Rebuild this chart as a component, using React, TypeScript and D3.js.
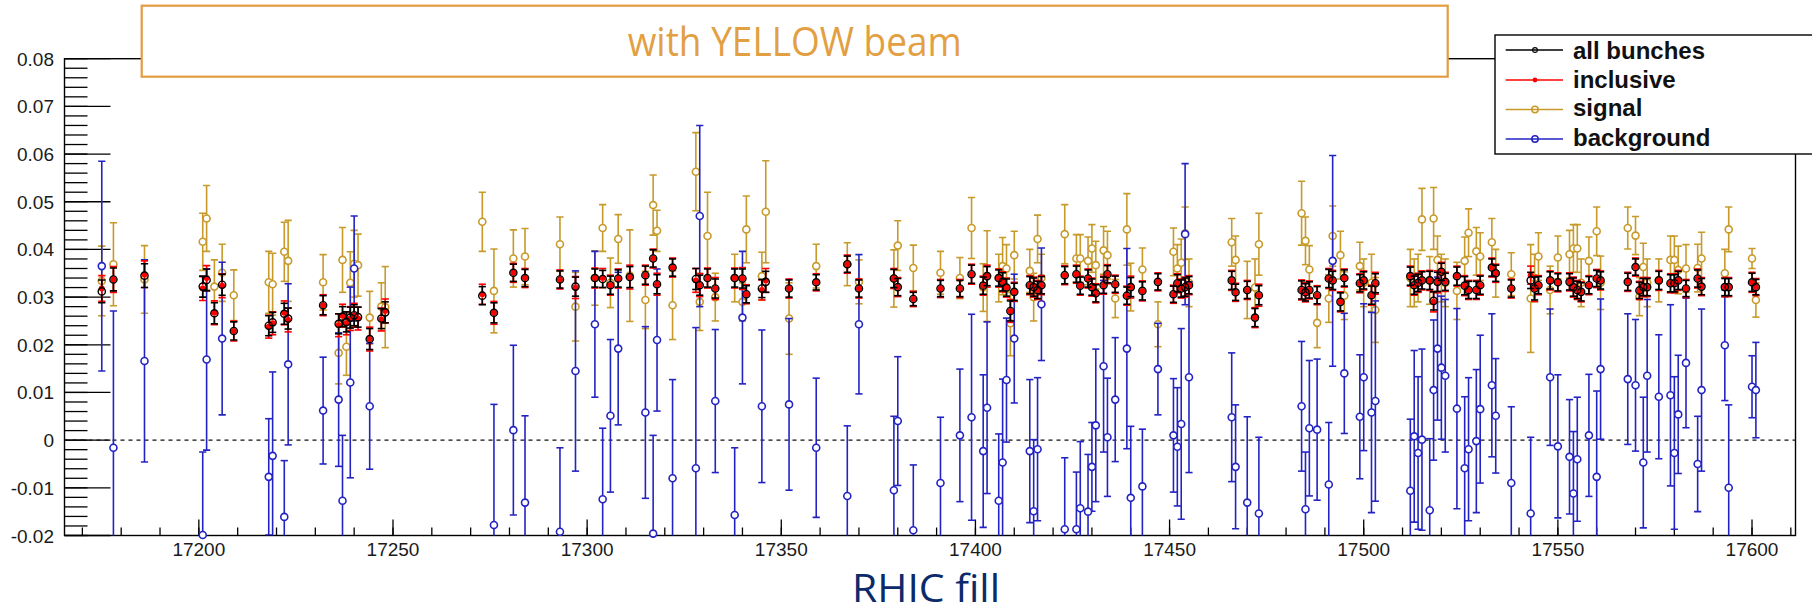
import React from "react";
import * as d3 from "d3";

// ---------------- data ----------------
const fills = [
  17175, 17178, 17186, 17201, 17202, 17204, 17206, 17209, 17218, 17219, 17222, 17223, 17232, 17236, 17237, 17238, 17239, 17240, 17241, 17244, 17247, 17248,
  17273, 17276, 17281, 17284, 17293, 17297, 17302, 17304, 17306, 17308, 17311, 17315, 17317, 17318, 17322, 17328, 17329, 17331, 17333, 17338, 17340, 17341, 17345, 17346, 17352,
  17359, 17367, 17370, 17379, 17380, 17384, 17391, 17396, 17399, 17402, 17403, 17406, 17407, 17408, 17409, 17410, 17414, 17415, 17416, 17417, 17423, 17426, 17427, 17429, 17430, 17431, 17433, 17434, 17436, 17439, 17440, 17443, 17447,
  17451, 17452, 17453, 17454, 17455, 17466, 17467, 17470, 17472, 17473, 17484, 17485, 17486, 17488, 17491, 17492, 17494, 17495, 17499, 17500, 17502, 17503,
  17512, 17513, 17514, 17515, 17517, 17518, 17519, 17520, 17521, 17524, 17526, 17527, 17529, 17530, 17533, 17534, 17538, 17543, 17544, 17545, 17548, 17550, 17553, 17554, 17555, 17556, 17558, 17560, 17561,
  17568, 17570, 17571, 17572, 17573, 17576, 17579, 17580, 17581, 17583, 17586, 17587, 17593, 17594, 17600, 17601,
];

const allV = [
  0.0312, 0.0337, 0.0345, 0.0322, 0.0336, 0.0266, 0.0326, 0.0229, 0.0240, 0.0247, 0.0265, 0.0255, 0.0283, 0.0244, 0.0259, 0.0248, 0.0257, 0.0262, 0.0258, 0.0212, 0.0255, 0.0268,
  0.0303, 0.0267, 0.0351, 0.0340, 0.0337, 0.0322, 0.0340, 0.0338, 0.0325, 0.0339, 0.0342, 0.0346, 0.0381, 0.0327, 0.0362, 0.0338, 0.0325, 0.0340, 0.0318, 0.0340, 0.0339, 0.0306, 0.0318, 0.0332, 0.0318,
  0.0331, 0.0369, 0.0318, 0.0339, 0.0321, 0.0296, 0.0318, 0.0318, 0.0348, 0.0324, 0.0344, 0.0340, 0.0332, 0.0320, 0.0271, 0.0311, 0.0325, 0.0321, 0.0315, 0.0325, 0.0346, 0.0348, 0.0324, 0.0339, 0.0321, 0.0308, 0.0325, 0.0348, 0.0327, 0.0303, 0.0321, 0.0313, 0.0332,
  0.0306, 0.0329, 0.0318, 0.0321, 0.0325, 0.0335, 0.0310, 0.0315, 0.0257, 0.0304, 0.0315, 0.0310, 0.0315, 0.0304, 0.0339, 0.0335, 0.0290, 0.0340, 0.0329, 0.0335, 0.0304, 0.0329,
  0.0344, 0.0325, 0.0330, 0.0335, 0.0335, 0.0292, 0.0332, 0.0353, 0.0332, 0.0344, 0.0324, 0.0315, 0.0315, 0.0325, 0.0362, 0.0350, 0.0318, 0.0335, 0.0318, 0.0325, 0.0335, 0.0331, 0.0332, 0.0321, 0.0315, 0.0311, 0.0325, 0.0339, 0.0335,
  0.0332, 0.0363, 0.0314, 0.0321, 0.0321, 0.0335, 0.0329, 0.0329, 0.0335, 0.0318, 0.0339, 0.0322, 0.0321, 0.0321, 0.0331, 0.0321,
];
const allE = [
  0.0024, 0.0024, 0.0025, 0.0022, 0.0023, 0.0022, 0.0022, 0.0019, 0.0021, 0.0021, 0.0022, 0.0022, 0.0020, 0.0021, 0.0021, 0.0021, 0.0022, 0.0022, 0.0021, 0.0022, 0.0021, 0.0022,
  0.0019, 0.0021, 0.0018, 0.0018, 0.0018, 0.0020, 0.0019, 0.0018, 0.0019, 0.0018, 0.0022, 0.0019, 0.0018, 0.0020, 0.0018, 0.0022, 0.0021, 0.0019, 0.0020, 0.0019, 0.0020, 0.0018, 0.0019, 0.0022, 0.0018,
  0.0016, 0.0017, 0.0018, 0.0019, 0.0018, 0.0014, 0.0017, 0.0017, 0.0019, 0.0018, 0.0020, 0.0017, 0.0019, 0.0018, 0.0021, 0.0018, 0.0018, 0.0019, 0.0018, 0.0018, 0.0018, 0.0017, 0.0018, 0.0018, 0.0017, 0.0018, 0.0017, 0.0018, 0.0017, 0.0018, 0.0020, 0.0019, 0.0017, 0.0017,
  0.0018, 0.0018, 0.0019, 0.0018, 0.0019, 0.0017, 0.0018, 0.0019, 0.0020, 0.0019, 0.0018, 0.0017, 0.0018, 0.0019, 0.0019, 0.0019, 0.0017, 0.0018, 0.0018, 0.0019, 0.0020, 0.0019,
  0.0019, 0.0018, 0.0018, 0.0019, 0.0019, 0.0020, 0.0018, 0.0018, 0.0019, 0.0019, 0.0018, 0.0018, 0.0019, 0.0018, 0.0017, 0.0018, 0.0017, 0.0024, 0.0018, 0.0018, 0.0018, 0.0017, 0.0019, 0.0018, 0.0019, 0.0018, 0.0017, 0.0018, 0.0018,
  0.0017, 0.0017, 0.0018, 0.0018, 0.0019, 0.0018, 0.0018, 0.0019, 0.0017, 0.0018, 0.0017, 0.0018, 0.0018, 0.0019, 0.0016, 0.0017,
];

const inclV = [
  0.0318, 0.0337, 0.0348, 0.0318, 0.0340, 0.0267, 0.0324, 0.0229, 0.0238, 0.0245, 0.0267, 0.0252, 0.0283, 0.0241, 0.0261, 0.0245, 0.0255, 0.0262, 0.0255, 0.0212, 0.0253, 0.0271,
  0.0306, 0.0267, 0.0351, 0.0340, 0.0337, 0.0320, 0.0340, 0.0340, 0.0325, 0.0339, 0.0342, 0.0346, 0.0381, 0.0327, 0.0362, 0.0335, 0.0325, 0.0340, 0.0318, 0.0340, 0.0339, 0.0306, 0.0315, 0.0335, 0.0318,
  0.0331, 0.0369, 0.0318, 0.0339, 0.0321, 0.0296, 0.0318, 0.0318, 0.0348, 0.0324, 0.0344, 0.0340, 0.0332, 0.0320, 0.0271, 0.0311, 0.0325, 0.0321, 0.0315, 0.0325, 0.0346, 0.0348, 0.0324, 0.0339, 0.0321, 0.0308, 0.0325, 0.0348, 0.0327, 0.0303, 0.0321, 0.0313, 0.0332,
  0.0306, 0.0329, 0.0318, 0.0321, 0.0325, 0.0335, 0.0310, 0.0315, 0.0257, 0.0304, 0.0315, 0.0310, 0.0315, 0.0304, 0.0339, 0.0335, 0.0290, 0.0340, 0.0329, 0.0335, 0.0304, 0.0329,
  0.0344, 0.0325, 0.0330, 0.0335, 0.0335, 0.0290, 0.0332, 0.0353, 0.0332, 0.0344, 0.0324, 0.0315, 0.0315, 0.0325, 0.0362, 0.0350, 0.0318, 0.0346, 0.0318, 0.0325, 0.0335, 0.0331, 0.0332, 0.0321, 0.0315, 0.0311, 0.0325, 0.0339, 0.0335,
  0.0332, 0.0363, 0.0314, 0.0321, 0.0321, 0.0335, 0.0329, 0.0329, 0.0335, 0.0318, 0.0339, 0.0322, 0.0321, 0.0321, 0.0331, 0.0321,
];
const inclE = [
  0.0027, 0.0027, 0.0028, 0.0025, 0.0026, 0.0025, 0.0025, 0.0021, 0.0024, 0.0024, 0.0025, 0.0025, 0.0022, 0.0024, 0.0024, 0.0024, 0.0025, 0.0025, 0.0024, 0.0025, 0.0024, 0.0025,
  0.0021, 0.0024, 0.0020, 0.0020, 0.0020, 0.0023, 0.0021, 0.0020, 0.0021, 0.0020, 0.0025, 0.0021, 0.0020, 0.0023, 0.0020, 0.0025, 0.0024, 0.0021, 0.0023, 0.0021, 0.0023, 0.0020, 0.0021, 0.0025, 0.0020,
  0.0018, 0.0019, 0.0020, 0.0021, 0.0020, 0.0016, 0.0019, 0.0019, 0.0021, 0.0020, 0.0023, 0.0019, 0.0021, 0.0020, 0.0024, 0.0020, 0.0020, 0.0021, 0.0020, 0.0020, 0.0020, 0.0019, 0.0020, 0.0020, 0.0019, 0.0020, 0.0019, 0.0020, 0.0019, 0.0020, 0.0023, 0.0021, 0.0019, 0.0019,
  0.0020, 0.0020, 0.0021, 0.0020, 0.0021, 0.0019, 0.0020, 0.0021, 0.0023, 0.0021, 0.0020, 0.0019, 0.0020, 0.0021, 0.0021, 0.0021, 0.0019, 0.0020, 0.0020, 0.0021, 0.0023, 0.0021,
  0.0021, 0.0020, 0.0020, 0.0021, 0.0021, 0.0023, 0.0020, 0.0020, 0.0021, 0.0021, 0.0020, 0.0020, 0.0021, 0.0020, 0.0019, 0.0020, 0.0019, 0.0027, 0.0020, 0.0020, 0.0020, 0.0019, 0.0021, 0.0020, 0.0021, 0.0020, 0.0019, 0.0020, 0.0020,
  0.0019, 0.0019, 0.0020, 0.0020, 0.0021, 0.0020, 0.0020, 0.0021, 0.0019, 0.0020, 0.0019, 0.0020, 0.0020, 0.0021, 0.0018, 0.0019,
];

const sigV = [
  0.0334, 0.0369, 0.0337, 0.0416, 0.0465, 0.0322, 0.0351, 0.0304, 0.0331, 0.0327, 0.0395, 0.0376, 0.0331, 0.0183, 0.0378, 0.0196, 0.0330, 0.0370, 0.0367, 0.0257, 0.0280, 0.0279,
  0.0458, 0.0313, 0.0381, 0.0385, 0.0411, 0.0280, 0.0340, 0.0445, 0.0330, 0.0422, 0.0345, 0.0294, 0.0493, 0.0439, 0.0283, 0.0563, 0.0290, 0.0428, 0.0300, 0.0340, 0.0290, 0.0442, 0.0344, 0.0479, 0.0255,
  0.0365, 0.0369, 0.0332, 0.0339, 0.0408, 0.0361, 0.0351, 0.0340, 0.0445, 0.0320, 0.0344, 0.0340, 0.0365, 0.0360, 0.0245, 0.0388, 0.0355, 0.0300, 0.0422, 0.0340, 0.0432, 0.0381, 0.0381, 0.0376, 0.0402, 0.0367, 0.0398, 0.0388, 0.0297, 0.0442, 0.0321, 0.0358, 0.0243,
  0.0395, 0.0360, 0.0372, 0.0434, 0.0330, 0.0415, 0.0378, 0.0315, 0.0320, 0.0411, 0.0476, 0.0418, 0.0358, 0.0246, 0.0297, 0.0428, 0.0388, 0.0303, 0.0365, 0.0330, 0.0330, 0.0273,
  0.0340, 0.0330, 0.0340, 0.0463, 0.0335, 0.0465, 0.0378, 0.0340, 0.0330, 0.0313, 0.0376, 0.0435, 0.0396, 0.0385, 0.0415, 0.0350, 0.0348, 0.0297, 0.0340, 0.0385, 0.0315, 0.0383, 0.0390, 0.0402, 0.0402, 0.0330, 0.0376, 0.0438, 0.0330,
  0.0445, 0.0429, 0.0301, 0.0363, 0.0330, 0.0335, 0.0378, 0.0378, 0.0357, 0.0360, 0.0361, 0.0381, 0.0350, 0.0442, 0.0381, 0.0294,
];
const sigE = [
  0.0073, 0.0087, 0.0071, 0.0060, 0.0069, 0.0056, 0.0060, 0.0053, 0.0065, 0.0065, 0.0062, 0.0085, 0.0058, 0.0065, 0.0068, 0.0060, 0.0065, 0.0070, 0.0065, 0.0055, 0.0050, 0.0085,
  0.0062, 0.0088, 0.0060, 0.0059, 0.0057, 0.0072, 0.0057, 0.0049, 0.0052, 0.0051, 0.0096, 0.0060, 0.0063, 0.0043, 0.0072, 0.0082, 0.0060, 0.0092, 0.0050, 0.0050, 0.0040, 0.0070, 0.0050, 0.0107, 0.0075,
  0.0046, 0.0045, 0.0046, 0.0060, 0.0052, 0.0048, 0.0045, 0.0043, 0.0064, 0.0050, 0.0095, 0.0050, 0.0060, 0.0050, 0.0068, 0.0050, 0.0045, 0.0050, 0.0050, 0.0050, 0.0062, 0.0050, 0.0050, 0.0050, 0.0050, 0.0050, 0.0050, 0.0050, 0.0040, 0.0075, 0.0050, 0.0045, 0.0047,
  0.0050, 0.0050, 0.0050, 0.0055, 0.0050, 0.0050, 0.0050, 0.0060, 0.0060, 0.0065, 0.0067, 0.0050, 0.0050, 0.0052, 0.0050, 0.0063, 0.0050, 0.0050, 0.0050, 0.0050, 0.0060, 0.0068,
  0.0060, 0.0050, 0.0050, 0.0065, 0.0050, 0.0065, 0.0050, 0.0050, 0.0050, 0.0060, 0.0050, 0.0050, 0.0050, 0.0050, 0.0050, 0.0050, 0.0045, 0.0113, 0.0050, 0.0050, 0.0050, 0.0045, 0.0050, 0.0050, 0.0050, 0.0050, 0.0050, 0.0051, 0.0056,
  0.0044, 0.0040, 0.0040, 0.0050, 0.0050, 0.0045, 0.0050, 0.0050, 0.0050, 0.0050, 0.0050, 0.0055, 0.0050, 0.0047, 0.0021, 0.0036,
];

const bgV = [
  0.0365, -0.0016, 0.0166, -0.0199, 0.0169, null, 0.0213, null, -0.0077, -0.0033, -0.0161, 0.0159, 0.0062, 0.0085, -0.0127, null, 0.0121, 0.0360, null, 0.0071, null, null,
  null, -0.0178, 0.0021, -0.0131, -0.0192, 0.0145, 0.0243, -0.0124, 0.0051, 0.0192, null, 0.0058, -0.0196, 0.0210, -0.0080, -0.0059, 0.0470, null, 0.0082, -0.0157, 0.0257, null, 0.0071, null, 0.0075,
  -0.0016, -0.0117, 0.0243, -0.0105, 0.0040, -0.0189, -0.0090, 0.0010, 0.0048, -0.0023, 0.0068, -0.0127, -0.0047, 0.0126, null, 0.0213, -0.0023, -0.0149, -0.0019, 0.0285, -0.0187, -0.0187, -0.0143, -0.0150, -0.0056, 0.0031, 0.0155, 0.0006, 0.0085, 0.0192, -0.0121, -0.0097, 0.0149,
  0.0010, -0.0014, 0.0034, 0.0432, 0.0132, 0.0048, -0.0056, -0.0131, null, -0.0154, 0.0071, -0.0145, 0.0025, 0.0022, -0.0093, 0.0376, null, 0.0140, 0.0049, 0.0132, 0.0058, 0.0082,
  -0.0106, 0.0008, -0.0027, 0.0001, -0.0147, 0.0105, 0.0192, 0.0152, 0.0135, 0.0066, -0.0059, -0.0019, -0.0002, 0.0065, 0.0115, 0.0051, -0.0090, -0.0154, null, null, 0.0132, -0.0013, -0.0035, -0.0112, -0.0040, null, 0.0010, -0.0077, 0.0149,
  0.0128, 0.0115, null, -0.0047, 0.0135, 0.0091, 0.0094, -0.0027, 0.0054, 0.0162, -0.0050, 0.0105, 0.0199, -0.0100, 0.0112, 0.0105,
];
const bgE = [
  0.0220, 0.0287, 0.0212, 0.0174, 0.0190, 0, 0.0160, 0, 0.0122, 0.0176, 0.0118, 0.0169, 0.0112, 0.0140, 0.0137, 0, 0.0200, 0.0110, 0, 0.0132, 0, 0,
  0, 0.0253, 0.0178, 0.0182, 0.0176, 0.0210, 0.0153, 0.0149, 0.0160, 0.0160, 0, 0.0180, 0.0206, 0.0149, 0.0207, 0.0295, 0.0190, 0, 0.0150, 0.0141, 0.0139, 0, 0.0160, 0, 0.0180,
  0.0146, 0.0147, 0.0146, 0.0155, 0.0135, 0.0137, 0.0138, 0.0139, 0.0216, 0.0160, 0.0180, 0.0140, 0.0175, 0.0130, 0, 0.0135, 0.0150, 0.0150, 0.0150, 0.0118, 0.0150, 0.0120, 0.0140, 0.0120, 0.0093, 0.0160, 0.0180, 0.0124, 0.0130, 0.0210, 0.0150, 0.0120, 0.0096,
  0.0119, 0.0124, 0.0200, 0.0148, 0.0200, 0.0135, 0.0130, 0.0180, 0, 0.0160, 0.0136, 0.0120, 0.0142, 0.0148, 0.0130, 0.0221, 0, 0.0126, 0.0130, 0.0154, 0.0210, 0.0210,
  0.0150, 0.0180, 0.0160, 0.0190, 0.0150, 0.0147, 0.0150, 0.0150, 0.0160, 0.0210, 0.0150, 0.0150, 0.0150, 0.0155, 0.0150, 0.0120, 0.0160, 0.0160, 0, 0, 0.0143, 0.0150, 0.0120, 0.0130, 0.0130, 0, 0.0128, 0.0180, 0.0147,
  0.0137, 0.0138, 0, 0.0137, 0.0160, 0.0130, 0.0190, 0.0160, 0.0124, 0.0136, 0.0100, 0.0170, 0.0116, 0.0174, 0.0065, 0.0100,
];

const xTickValues = [17200, 17250, 17300, 17350, 17400, 17450, 17500, 17550, 17600];
const xTickLabels = ["17200", "17250", "17300", "17350", "17400", "17450", "17500", "17550", "17600"];
const yTickValues = [-0.02, -0.01, 0, 0.01, 0.02, 0.03, 0.04, 0.05, 0.06, 0.07, 0.08];
const yTickLabels = ["-0.02", "-0.01", "0", "0.01", "0.02", "0.03", "0.04", "0.05", "0.06", "0.07", "0.08"];
const legendLabels = ["all bunches", "inclusive", "signal", "background"];
const titleText = "with YELLOW beam";
const xAxisTitle = "RHIC fill";

// ---------------- layout ----------------
const W = 1812;
const H = 613;
const L = 64.5, R = 1795.5, T = 58.7, B = 535.5;
const x = d3.scaleLinear().domain([17165.4, 17611.2]).range([L, R]);
const y = d3.scaleLinear().domain([-0.02, 0.08]).range([B, T]);

const C_BLACK = "#000000";
const C_RED = "#ff0000";
const C_GOLD = "#c79a2a";
const C_BLUE = "#2323c4";
const AXIS_FONT = "'Liberation Sans', Arial, Helvetica, sans-serif";

type SeriesProps = {
  vals: (number | null)[];
  errs: number[];
  color: string;
  r: number;
  sw: number;
  cap: number;
  marker: "open" | "filled";
  markerFill?: string;
  markerSW?: number;
};

function Series({ vals, errs, color, r, sw, cap, marker, markerFill, markerSW }: SeriesProps) {
  const bars: React.ReactNode[] = [];
  const marks: React.ReactNode[] = [];
  vals.forEach((v, i) => {
    if (v === null || v === undefined) return;
    const e = errs[i];
    const cx = x(fills[i]);
    const cy = y(v);
    const t = y(v + e);
    const b = y(v - e);
    if (cy - r > t) bars.push(<line key={"u" + i} x1={cx} x2={cx} y1={cy - r} y2={t} />);
    if (cy + r < b) bars.push(<line key={"d" + i} x1={cx} x2={cx} y1={cy + r} y2={b} />);
    bars.push(<line key={"ct" + i} x1={cx - cap} x2={cx + cap} y1={t} y2={t} />);
    bars.push(<line key={"cb" + i} x1={cx - cap} x2={cx + cap} y1={b} y2={b} />);
    if (v >= -0.02 && v <= 0.08) {
      if (marker === "open") {
        marks.push(
          <circle key={"m" + i} cx={cx} cy={cy} r={r} fill={markerFill || "none"} stroke={color} strokeWidth={markerSW || sw} />
        );
      } else {
        marks.push(<circle key={"m" + i} cx={cx} cy={cy} r={r} fill={color} stroke="none" />);
      }
    }
  });
  return (
    <g>
      <g clipPath="url(#frameClip)" stroke={color} strokeWidth={sw} fill="none">
        {bars}
      </g>
      <g>{marks}</g>
    </g>
  );
}

export default function App() {
  const xMinor = d3.range(17170, 17611, 10);
  const yMinor = d3.range(-0.02, 0.0801, 0.002);

  const legendRows = [50, 80, 109.5, 139];
  const legendBase = [58.5, 87.8, 116.3, 146];
  const legendColors = [C_BLACK, C_RED, C_GOLD, C_BLUE];

  return (
    <svg
      width={W}
      height={H}
      viewBox={`0 0 ${W} ${H}`}
      style={{ position: "absolute", left: 0, top: 0, display: "block", background: "#fff" }}
    >
      <defs>
        <clipPath id="frameClip">
          <rect x={L} y={T} width={R - L} height={B - T} />
        </clipPath>
      </defs>
      <rect x={0} y={0} width={W} height={H} fill="#fff" />

      {/* frame */}
      <rect x={L} y={T} width={R - L} height={B - T} fill="none" stroke="#000" strokeWidth={1.4} />

      {/* y ticks */}
      <g stroke="#000" strokeWidth={1.3}>
        {yMinor.map((v, i) => (
          <line key={"ym" + i} x1={L} x2={L + 23} y1={y(v)} y2={y(v)} />
        ))}
        {yTickValues.map((v, i) => (
          <line key={"yM" + i} x1={L} x2={L + 46} y1={y(v)} y2={y(v)} />
        ))}
      </g>
      <g fontFamily={AXIS_FONT} fontSize={19} fill="#1a1a1a" textAnchor="end">
        {yTickValues.map((v, i) => (
          <text key={"yl" + i} x={54} y={y(v) + 7}>
            {yTickLabels[i]}
          </text>
        ))}
      </g>

      {/* x ticks */}
      <g stroke="#000" strokeWidth={1.3}>
        {xMinor.map((v, i) => (
          <line key={"xm" + i} x1={x(v)} x2={x(v)} y1={B} y2={B - 8} />
        ))}
        {xTickValues.map((v, i) => (
          <line key={"xM" + i} x1={x(v)} x2={x(v)} y1={B} y2={B - 16} />
        ))}
      </g>
      <g fontFamily={AXIS_FONT} fontSize={19} fill="#1a1a1a" textAnchor="middle">
        {xTickValues.map((v, i) => (
          <text key={"xl" + i} x={x(v)} y={555.5}>
            {xTickLabels[i]}
          </text>
        ))}
      </g>

      {/* zero line */}
      <line x1={L} x2={R} y1={y(0)} y2={y(0)} stroke="#111" strokeWidth={1.4} strokeDasharray="4,4" />

      {/* data */}
      <Series vals={sigV} errs={sigE} color={C_GOLD} r={3.5} sw={1.6} cap={3.6} marker="open" markerFill="#fff" markerSW={1.6} />
      <Series vals={bgV} errs={bgE} color={C_BLUE} r={3.5} sw={1.6} cap={3.6} marker="open" markerFill="#fff" markerSW={1.6} />
      <Series vals={inclV} errs={inclE} color={C_RED} r={3.0} sw={1.6} cap={3.6} marker="filled" />
      <Series vals={allV} errs={allE} color={C_BLACK} r={3.6} sw={1.6} cap={3.6} marker="open" markerSW={1.4} />

      {/* title box */}
      <rect x={141.7} y={5.7} width={1306} height={71} fill="#fff" stroke="#e39d40" strokeWidth={2.2} />
      <text
        x={794.7}
        y={56}
        textAnchor="middle"
        fontFamily="'Open Sans', 'Noto Sans', sans-serif"
        fontSize={41}
        fill="#e2a043"
        textLength={334}
        lengthAdjust="spacingAndGlyphs"
      >
        {titleText}
      </text>

      {/* legend */}
      <rect x={1495} y={35} width={340} height={119} fill="#fff" stroke="#000" strokeWidth={1.4} />
      {legendLabels.map((lab, i) => (
        <g key={"lg" + i}>
          <line x1={1505.7} x2={1563} y1={legendRows[i]} y2={legendRows[i]} stroke={legendColors[i]} strokeWidth={1.5} />
          {i === 1 ? (
            <circle cx={1535} cy={legendRows[i]} r={2.4} fill={C_RED} />
          ) : (
            <circle cx={1535} cy={legendRows[i]} r={i === 0 ? 2.4 : 3.2} fill="none" stroke={legendColors[i]} strokeWidth={i === 0 ? 1.1 : 1.5} />
          )}
          <text x={1573} y={legendBase[i]} fontFamily={AXIS_FONT} fontWeight="bold" fontSize={24} fill="#111">
            {lab}
          </text>
        </g>
      ))}

      {/* x axis title */}
      <text
        x={926}
        y={602}
        textAnchor="middle"
        fontFamily="'Open Sans', 'Noto Sans', sans-serif"
        fontSize={39}
        fill="#0c2a6a"
        textLength={148}
        lengthAdjust="spacingAndGlyphs"
      >
        {xAxisTitle}
      </text>
    </svg>
  );
}
